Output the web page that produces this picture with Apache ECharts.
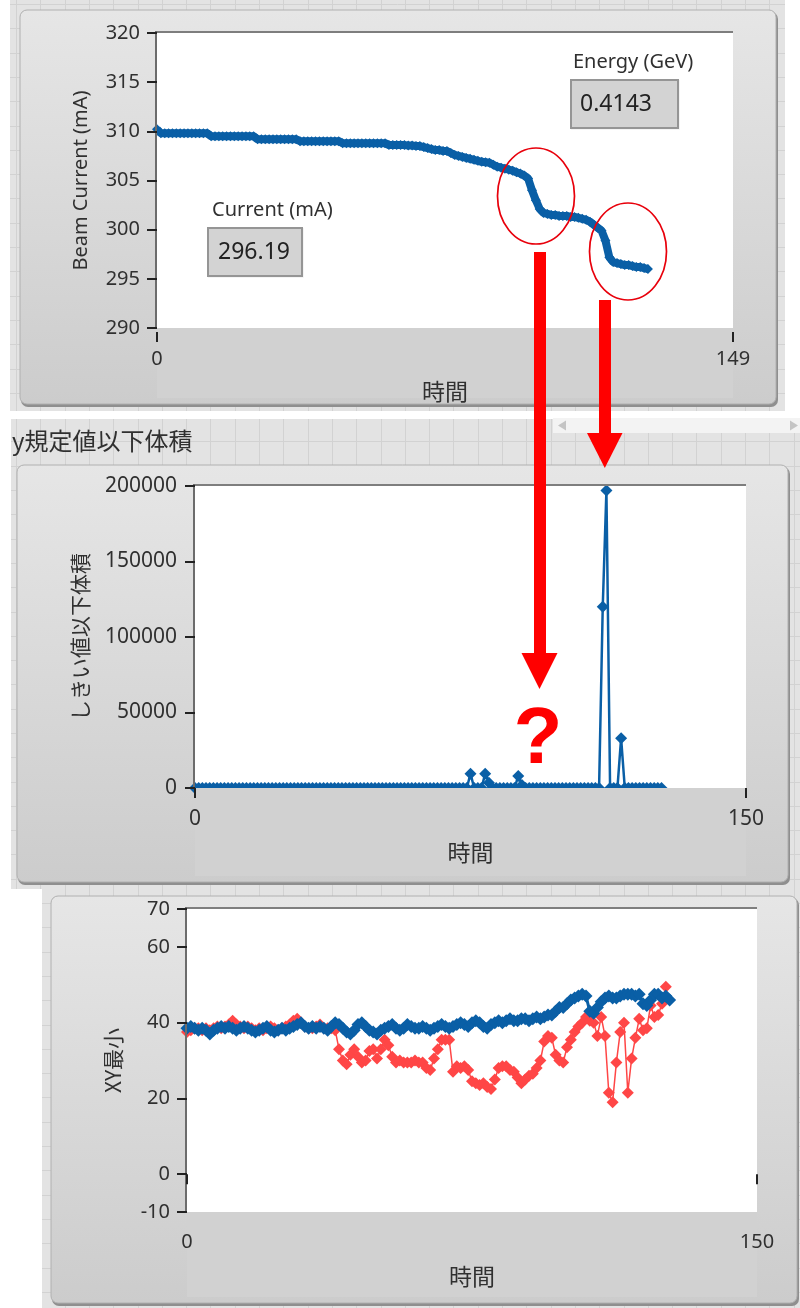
<!DOCTYPE html>
<html><head><meta charset="utf-8">
<script src="https://cdn.jsdelivr.net/npm/echarts@6/dist/echarts.min.js"></script>
<style>html,body{margin:0;padding:0;background:#fff}#c{width:800px;height:1308px}</style>
</head><body><div id="c"></div><script>
// ---------- DATA ----------
// Chart 1: Beam Current (mA) vs 時間 (index = time)
const beamCurrent = [
  310.2,
  309.8,309.8,309.8,309.8,309.8,309.8,309.8,309.8,309.8,309.8,309.8,309.8,309.8,
  309.5,309.5,309.5,309.5,309.5,309.5,309.5,309.5,309.5,309.5,309.5,309.5,
  309.2,309.2,309.2,309.2,309.2,309.2,309.2,309.2,309.2,309.2,309.2,
  309.0,309.0,309.0,309.0,309.0,309.0,309.0,309.0,309.0,309.0,309.0,
  308.8,308.8,308.8,308.8,308.8,308.8,308.8,308.8,308.8,308.8,308.8,308.8,
  308.6,308.6,308.6,308.6,308.6,308.55,308.55,308.5,308.5,
  308.4,308.3,308.2,308.1,308.1,308.0,308.0,
  307.8,307.6,307.5,307.4,307.3,307.2,307.1,307.0,306.9,306.85,
  306.8,306.6,306.4,306.3,306.2,306.1,306.0,305.85,305.7,305.5,305.2,
  304.0,303.0,302.1,301.7,
  301.6,301.5,301.5,301.4,301.4,301.4,301.3,301.3,301.2,301.1,301.0,300.8,
  300.5,300.2,299.9,298.9,297.2,
  296.7,296.6,296.5,296.4,296.4,296.3,296.2,296.2,296.1,296.0
];
const currentXTicks = [0, 149];
const currentValue = "296.19";
const energyValue = "0.4143";

// Chart 2: しきい値以下体積 vs 時間
const volumeBelow = [
  0,0,0,0,0,0,0,0,0,0,0,0,0,0,0,0,
  0,0,0,0,0,0,0,0,0,0,0,0,0,0,0,0,
  0,0,0,0,0,0,0,0,0,0,0,0,0,0,0,0,
  0,0,0,0,0,0,0,0,0,0,0,0,0,0,0,0,
  0,0,0,0,0,0,0,0,0,0,0,9500,0,0,0,9500,
  3500,0,0,0,0,0,0,0,8000,2000,0,0,0,0,0,0,
  0,0,0,0,0,0,0,0,0,0,0,0,0,0,0,120000,
  197000,0,0,0,33000,0,0,0,0,0,0,0,0,0,0,0
];
const volumeXTicks = [0, 150];

// Chart 3: XY最小 vs 時間 (two plots)
const xyMinBlue = [
  38.5,39,38.5,38,38.5,38,37,38,38.5,39,
  38.5,39,38.5,38,38.5,39,38.5,38,37.5,38,
  38.5,39,38,37.5,38,38.5,38,38.5,39,39.5,
  40,39,38.5,39,38.5,39,38.5,38,39,40,
  39.5,38.5,37.5,37,38,39.5,40,39,38,37.5,
  37,38,38.5,39,39.5,38.5,38,38.5,39.5,39,
  38.5,38.5,39,38.5,38,38.5,39,39.5,39,38.5,
  39,39.5,40,39.5,39,40,40.5,40,39,38.5,
  39.5,40,40.5,40,40.5,41,40.5,40.5,41,41,
  40.5,41,41.5,41,41.5,42,42,43,44,44,
  45,46,46.5,47,47.5,47,43,42.5,44,45.5,
  46.5,47,46.5,46.5,47,47.5,47.5,47.5,47,47.5,
  45,44.5,46,47.5,47.5,46.5,47,46
];
const xyMinRed = [
  37.5,38,38.5,38.5,38,38.5,38,38.5,39,38.5,
  39,39.5,40.5,39.5,39,38.5,39,38.5,38,38.5,
  38,38.5,39,38.5,38,38.5,39,39.5,40.5,41,
  40,39,38.5,38.5,39,39.5,38.5,38.5,38.5,38,
  33,30,29,31.5,33,31,29.5,30,32.5,33,
  30.5,33,35.5,34,31,29.5,30,29.5,29.5,29.5,
  30,29.5,29.5,28,27.5,30.5,33,35.5,35.5,35.5,
  27,28.5,28,28.5,27.5,24.5,24,23.5,24,23,
  22.5,25,28,28.5,28.5,27.5,27,25.5,24,25,
  26,26.5,28,30,35,36.5,36,31.5,30,29.5,
  33.5,35.5,37.5,39,40,41.5,40.5,40,36.5,41.5,
  36.5,21.5,19,29.5,37.5,40,21.5,30.5,36,41,
  38,38.5,44.5,41.5,42,45,49.5
];
const xyXTicks = [0, 150];
const xyYTicks = [-10, 0, 20, 40, 60, 70];

// ---------- STYLE / LAYOUT ----------
const BLUE = '#0a5fa6', RED = '#ff4646', TXT = '#303030';
const LAT = '"Noto Sans", "Open Sans", sans-serif';
const CJK = '"Noto Sans CJK JP", "Noto Sans", sans-serif';
const grids = [
  {left:157, top:33, width:576, height:295},
  {left:195, top:486, width:551, height:302},
  {left:187, top:909, width:570, height:303}
];
const panels = [
  {x:20, y:10, w:756, h:394},
  {x:17, y:465, w:771, h:417},
  {x:51, y:896, w:746, h:407}
];

const G = [];
function txt(x, y, text, font, fill, align, valign, z, extra) {
  G.push(Object.assign({type:'text', x:x, y:y, z:z || 20, silent:true,
    style:{text:text, font:font, fill:fill, align:align || 'left', verticalAlign:valign || 'middle',
      textAlign:align || 'left', textVerticalAlign:valign || 'middle'}}, extra || {}));
}
function bgSection(x, y, w, h) {
  G.push({type:'rect', silent:true, z:-5, shape:{x:x, y:y, width:w, height:h}, style:{fill:'#e3e3e3'}});
  for (let gx = 16; gx < x + w; gx += 24.3) {
    if (gx < x) continue;
    G.push({type:'line', silent:true, z:-4, shape:{x1:Math.round(gx)+0.5, y1:y, x2:Math.round(gx)+0.5, y2:y+h}, style:{stroke:'#d2d2d2', lineWidth:1}});
  }
  for (let gy = 4; gy < y + h; gy += 24.3) {
    if (gy < y) continue;
    G.push({type:'line', silent:true, z:-4, shape:{x1:x, y1:Math.round(gy)+0.5, x2:x+w, y2:Math.round(gy)+0.5}, style:{stroke:'#d2d2d2', lineWidth:1}});
  }
}
bgSection(10, 0, 775, 411);
bgSection(11, 419, 789, 470);
bgSection(42, 889, 758, 419);
// scrollbar strip
G.push({type:'rect', silent:true, z:-3, shape:{x:553, y:418, width:247, height:15}, style:{fill:'#f3f3f3'}});
G.push({type:'polygon', silent:true, z:-3, shape:{points:[[558,425.5],[566,420.5],[566,430.5]]}, style:{fill:'#c4c4c4'}});
G.push({type:'polygon', silent:true, z:-3, shape:{points:[[790,420.5],[798,425.5],[790,430.5]]}, style:{fill:'#c4c4c4'}});

panels.forEach(function (p, i) {
  const g = grids[i];
  G.push({type:'rect', silent:true, z:-3, shape:{x:p.x+1, y:p.y+2, width:p.w+1, height:p.h+1, r:7}, style:{fill:'#8f8f8f'}});
  G.push({type:'rect', silent:true, z:-2, shape:{x:p.x, y:p.y, width:p.w, height:p.h, r:7},
    style:{fill:{type:'linear', x:0, y:0, x2:0, y2:1, colorStops:[{offset:0, color:'#e6e6e6'},{offset:1, color:'#cccccc'}]}, stroke:'#b0b0b0', lineWidth:1}});
  // plot area
  G.push({type:'rect', silent:true, z:-1, shape:{x:g.left, y:g.top, width:g.width, height:g.height}, style:{fill:'#ffffff'}});
  // bottom band under plot (covers marks below zero line)
  G.push({type:'rect', silent:true, z:5, shape:{x:g.left, y:g.top+g.height, width:g.width, height:p.y+p.h-6-(g.top+g.height)}, style:{fill:'#d1d1d1'}});
  // borders
  G.push({type:'line', silent:true, z:6, shape:{x1:g.left, y1:g.top-1, x2:g.left+g.width, y2:g.top-1}, style:{stroke:'#7e7e7e', lineWidth:2}});
  G.push({type:'line', silent:true, z:6, shape:{x1:g.left-1, y1:g.top-2, x2:g.left-1, y2:g.top+g.height}, style:{stroke:'#6c6c6c', lineWidth:2}});
});

// title of section 2
txt(12, 441, 'y規定値以下体積', '24px ' + CJK, TXT, 'left', 'middle', 20);

// indicators
txt(212, 210, 'Current (mA)', '20px ' + LAT, TXT, 'left', 'middle', 20);
G.push({type:'rect', silent:true, z:19, shape:{x:208, y:228, width:94, height:48}, style:{fill:'#d3d3d3', stroke:'#959595', lineWidth:2}});
G.push({type:'polyline', silent:true, z:19, shape:{points:[[208,277.5],[303.5,277.5],[303.5,228]]}, style:{stroke:'#f4f4f4', lineWidth:1}});
txt(218, 252, currentValue, '23px ' + LAT, '#222', 'left', 'middle', 20);
txt(573, 62, 'Energy (GeV)', '20px ' + LAT, TXT, 'left', 'middle', 20);
G.push({type:'rect', silent:true, z:19, shape:{x:571, y:80, width:107, height:48}, style:{fill:'#d3d3d3', stroke:'#959595', lineWidth:2}});
G.push({type:'polyline', silent:true, z:19, shape:{points:[[571,129.5],[679.5,129.5],[679.5,80]]}, style:{stroke:'#f4f4f4', lineWidth:1}});
txt(580, 104, energyValue, '23px ' + LAT, '#222', 'left', 'middle', 20);

// red annotations
G.push({type:'ellipse', silent:true, z:30, shape:{cx:536, cy:196, rx:38.5, ry:48}, style:{fill:'rgba(0,0,0,0)', stroke:'#e8000b', lineWidth:1.7}});
G.push({type:'ellipse', silent:true, z:30, shape:{cx:628, cy:251.5, rx:38.5, ry:48.5}, style:{fill:'rgba(0,0,0,0)', stroke:'#e8000b', lineWidth:1.7}});
G.push({type:'rect', silent:true, z:30, shape:{x:534, y:252, width:12, height:402}, style:{fill:'#ff0000'}});
G.push({type:'polygon', silent:true, z:30, shape:{points:[[521.5,653],[557.5,653],[539.5,689]]}, style:{fill:'#ff0000'}});
G.push({type:'rect', silent:true, z:30, shape:{x:599, y:300, width:12, height:134}, style:{fill:'#ff0000'}});
G.push({type:'polygon', silent:true, z:30, shape:{points:[[587,433],[622.5,433],[604.8,468]]}, style:{fill:'#ff0000'}});
txt(538, 741, '?', 'bold 80px "Liberation Sans", Arial, sans-serif', '#ff0000', 'center', 'middle', 30);

// ---------- AXES ----------
function plainNum(v) { return String(v); }
function xAx(gi, max, ticks, offset, margin, fs) {
  return {type:'value', gridIndex:gi, min:0, max:max, position:'bottom', offset:offset, z:10,
    axisLine:{show:false}, splitLine:{show:false},
    axisTick:{show:true, length:10, customValues:ticks, lineStyle:{color:'#222', width:2}},
    axisLabel:{customValues:ticks, margin:margin, fontSize:fs, color:TXT, fontFamily:LAT, formatter:plainNum},
    name:'時間', nameLocation:'middle', nameGap:48,
    nameTextStyle:{fontSize:23, color:TXT, fontFamily:CJK}};
}
function yAx(gi, min, max, interval, offset, margin, fs, name, nameGap, nameFont, nameSize, ticks) {
  const ax = {type:'value', gridIndex:gi, min:min, max:max, interval:interval, position:'left', offset:offset, z:10,
    axisLine:{show:false}, splitLine:{show:false},
    axisTick:{show:true, length:10, lineStyle:{color:'#222', width:2}},
    axisLabel:{margin:margin, fontSize:fs, color:TXT, fontFamily:LAT, formatter:plainNum},
    name:name, nameLocation:'middle', nameRotate:90, nameGap:nameGap,
    nameTextStyle:{fontSize:nameSize, color:TXT, fontFamily:nameFont}};
  if (ticks) { ax.axisTick.customValues = ticks; ax.axisLabel.customValues = ticks; }
  return ax;
}

const option = {
  animation:false,
  backgroundColor:'#ffffff',
  grid: grids.map(function (g) { return Object.assign({containLabel:false, show:false}, g); }),
  xAxis: [
    xAx(0, 149, currentXTicks, 4, 17, 20),
    xAx(1, 150, volumeXTicks, 5, 16, 21),
    xAx(2, 150, xyXTicks, 5, 15, 20)
  ],
  yAxis: [
    yAx(0, 290, 320, 5, 3, 14, 20, 'Beam Current (mA)', 63, LAT, 20),
    yAx(1, 0, 200000, 50000, 4, 14, 21, 'しきい値以下体積', 100, CJK, 21),
    yAx(2, -10, 70, 10, 4, 13, 20, 'XY最小', 59, CJK, 21, xyYTicks)
  ],
  series: [
    {type:'line', xAxisIndex:0, yAxisIndex:0, silent:true, z:2,
      data: beamCurrent.map(function (v, i) { return [i, v]; }),
      symbol:'diamond', symbolSize:10, lineStyle:{color:BLUE, width:8}, itemStyle:{color:BLUE}},
    {type:'line', xAxisIndex:1, yAxisIndex:1, silent:true, z:2,
      data: volumeBelow.map(function (v, i) { return [i, v]; }),
      symbol:'diamond', symbolSize:12, lineStyle:{color:BLUE, width:2.5}, itemStyle:{color:BLUE}},
    {type:'line', xAxisIndex:2, yAxisIndex:2, silent:true, z:2,
      data: xyMinRed.map(function (v, i) { return [i, v]; }),
      symbol:'diamond', symbolSize:12, lineStyle:{color:RED, width:1.5}, itemStyle:{color:RED}},
    {type:'line', xAxisIndex:2, yAxisIndex:2, silent:true, z:3,
      data: xyMinBlue.map(function (v, i) { return [i, v]; }),
      symbol:'diamond', symbolSize:13, lineStyle:{color:BLUE, width:3}, itemStyle:{color:BLUE}}
  ],
  graphic: {elements: G}
};
const chart = echarts.init(document.getElementById('c'), null, {renderer:'canvas'});
chart.setOption(option);
</script></body></html>
